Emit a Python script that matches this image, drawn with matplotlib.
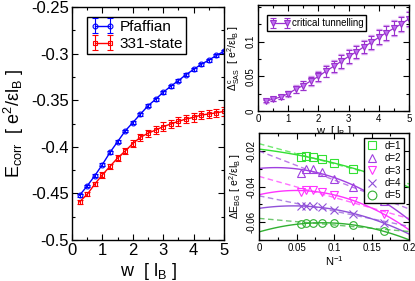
import numpy as np
import matplotlib
matplotlib.use("Agg")
import matplotlib.pyplot as plt
from matplotlib.ticker import MultipleLocator, FixedLocator, FuncFormatter

plt.rcParams['font.family'] = ['Liberation Sans', 'DejaVu Sans']
plt.rcParams['axes.unicode_minus'] = False
plt.rcParams['mathtext.fontset'] = 'custom'
plt.rcParams['mathtext.rm'] = 'Liberation Sans'

# ---------------- data ----------------
w = [0.25, 0.5, 0.75, 1.0, 1.25, 1.5, 1.75, 2.0, 2.25, 2.5,
     2.75, 3.0, 3.25, 3.5, 3.75, 4.0, 4.25, 4.5, 4.75, 5.0]
pfaffian = [-0.452, -0.442, -0.431, -0.419, -0.406, -0.3945, -0.383, -0.374,
            -0.365, -0.356, -0.349, -0.3415, -0.335, -0.329, -0.3226, -0.317,
            -0.3115, -0.307, -0.302, -0.2975]
pfaffian_err = [0.0015] * 20
state331 = [-0.459, -0.451, -0.440, -0.430, -0.421, -0.412, -0.4045, -0.3965,
            -0.3898, -0.3855, -0.382, -0.3784, -0.3755, -0.3727, -0.3702,
            -0.3684, -0.3659, -0.3648, -0.3635, -0.362]
state331_err = [0.002, 0.002, 0.0025, 0.003, 0.003, 0.0035, 0.0035, 0.004,
                0.004, 0.004, 0.0045, 0.0045, 0.0045, 0.0045, 0.0045, 0.0045,
                0.0045, 0.0045, 0.0045, 0.0045]

tunnel = [0.0145, 0.017, 0.0203, 0.025, 0.0316, 0.0367, 0.0435, 0.0498,
          0.0576, 0.0643, 0.0715, 0.0788, 0.0851, 0.0924, 0.099, 0.1063,
          0.1131, 0.1194, 0.1258, 0.133]
tunnel_err = [0.002, 0.002, 0.003, 0.004, 0.005, 0.006, 0.006, 0.007, 0.008,
              0.008, 0.009, 0.009, 0.009, 0.009, 0.009, 0.01, 0.01, 0.01,
              0.01, 0.01]
tunnel_err2 = [0.0025, 0.0025, 0.0035, 0.0045, 0.006, 0.007, 0.007, 0.008,
               0.009, 0.009, 0.0105, 0.0105, 0.0105, 0.0105, 0.0105, 0.0115,
               0.0115, 0.0115, 0.0115, 0.0115]

inv_n = [1/18, 1/16, 1/14, 1/12, 1/10, 1/8, 1/6]
d_labels = ['d=1', 'd=2', 'd=3', 'd=4', 'd=5']
e_bg = {
    'd=1': [-0.0237, -0.0228, -0.0232, -0.0247, -0.0271, -0.0303, -0.0350],
    'd=2': [-0.0322, -0.0303, -0.0303, -0.0316, -0.0356, -0.0403, -0.0482],
    'd=3': [-0.0429, -0.0422, -0.0422, -0.0429, -0.0449, -0.0482, -0.0554],
    'd=4': [-0.0511, -0.0511, -0.0511, -0.0516, -0.0529, -0.0552, -0.0605],
    'd=5': [-0.0610, -0.0605, -0.0605, -0.0605, -0.0605, -0.0614, -0.0652],
}
d_colors = ['#33e033', '#a040e0', '#ff33ff', '#9050d8', '#30b030']
d_markers = ['s', '^', 'v', 'x', 'o']

fmt = FuncFormatter(lambda v, p: f"{v:g}")

W, H = 415, 281
fig = plt.figure(figsize=(W/100, H/100), dpi=100)

def frac(x0, y0, x1, y1):
    return [x0/W, 1 - y1/H, (x1-x0)/W, (y1-y0)/H]

def style(ax, fs):
    ax.tick_params(which='both', direction='in', top=True, right=True,
                   labelsize=fs, pad=2)
    ax.tick_params(which='major', length=4, width=0.8)
    ax.tick_params(which='minor', length=2, width=0.8)
    for s in ax.spines.values():
        s.set_linewidth(1.0)

# ---------------- left panel ----------------
ax1 = fig.add_axes(frac(72, 7, 224, 240))
ax1.errorbar(w, pfaffian, yerr=pfaffian_err, color='#0000ff', marker='o',
             ms=3.5, mfc='none', mew=0.8, lw=1.0, capsize=2, elinewidth=0.8,
             label='Pfaffian')
ax1.errorbar(w, state331, yerr=state331_err, color='#ff0000', marker='s',
             ms=3.5, mfc='none', mew=0.8, lw=1.0, capsize=2, elinewidth=0.8,
             label='331-state')
ax1.set_xlim(0, 5)
ax1.set_ylim(-0.5, -0.25)
ax1.xaxis.set_major_locator(MultipleLocator(1))
ax1.xaxis.set_minor_locator(MultipleLocator(0.5))
ax1.yaxis.set_major_locator(MultipleLocator(0.05))
ax1.yaxis.set_minor_locator(MultipleLocator(0.025))
ax1.xaxis.set_major_formatter(fmt)
ax1.yaxis.set_major_formatter(fmt)
style(ax1, 12)
ax1.set_xlabel(r"w  [ l$_\mathregular{B}$ ]", fontsize=13, labelpad=2)
ax1.set_ylabel(r"E$_\mathregular{corr}$  [ e$^\mathregular{2}$/εl$_\mathregular{B}$ ]",
               fontsize=13, labelpad=4)
ax1.legend(loc='upper left', fontsize=11, numpoints=2, handlelength=1.6,
           handletextpad=0.3, borderpad=0.2, labelspacing=0.2,
           fancybox=False, edgecolor='black', framealpha=1,
           bbox_to_anchor=(0.05, 0.99))

# ---------------- top right panel ----------------
ax2 = fig.add_axes(frac(258, 5, 409, 111))
ax2.errorbar(w, tunnel, yerr=tunnel_err2, color='#d8a0f0', fmt='none',
             capsize=2.5, elinewidth=0.8)
ax2.errorbar(w, tunnel, yerr=tunnel_err, color='#9a32cd', marker='v', ms=4.5,
             mfc='#c070f0', mew=0.8, lw=0.9, capsize=2.5, elinewidth=0.8,
             label='critical tunnelling')
ax2.set_xlim(0, 5)
ax2.set_ylim(0, 0.153)
ax2.xaxis.set_major_locator(MultipleLocator(1))
ax2.xaxis.set_minor_locator(MultipleLocator(0.5))
ax2.yaxis.set_major_locator(FixedLocator([0, 0.05, 0.1]))
ax2.yaxis.set_minor_locator(MultipleLocator(0.025))
ax2.xaxis.set_major_formatter(fmt)
ax2.yaxis.set_major_formatter(fmt)
style(ax2, 7)
for lab in ax2.get_yticklabels():
    lab.set_rotation(90)
    lab.set_va('center')
ax2.set_xlabel(r"w  [ l$_\mathregular{B}$ ]", fontsize=8, labelpad=0)
ax2.set_ylabel(r"Δ$^\mathregular{c}_\mathregular{SAS}$  [ e$^\mathregular{2}$/εl$_\mathregular{B}$ ]",
               fontsize=7.5, labelpad=2)
ax2.legend(loc='upper left', fontsize=7, numpoints=2, handlelength=2.0,
           handletextpad=0.2, borderpad=0.3, fancybox=False,
           edgecolor='black', framealpha=1, bbox_to_anchor=(0.03, 0.95))

# ---------------- bottom right panel ----------------
ax3 = fig.add_axes(frac(259, 133, 409, 240))
xs = np.linspace(0, 0.2, 100)
x_arr = np.array(inv_n)
for lab, col, mk in zip(d_labels, d_colors, d_markers):
    y_arr = np.array(e_bg[lab])
    q = np.polyfit(x_arr, y_arr, 2)
    l = np.polyfit(x_arr, y_arr, 1)
    ax3.plot(xs, np.polyval(q, xs), color=col, lw=1.0)
    ax3.plot(xs, np.polyval(l, xs), color=col, lw=1.0, ls=(0, (4, 2.5)), alpha=0.7)
    ax3.plot(x_arr, y_arr, ls='none', marker=mk, ms=5.5, mfc='none',
             mec=col, mew=0.8, label=lab)
ax3.set_xlim(0, 0.2)
ax3.set_ylim(-0.07, -0.01)
ax3.xaxis.set_major_locator(MultipleLocator(0.05))
ax3.xaxis.set_minor_locator(MultipleLocator(0.025))
ax3.yaxis.set_major_locator(FixedLocator([-0.06, -0.04, -0.02]))
ax3.yaxis.set_minor_locator(MultipleLocator(0.01))
ax3.xaxis.set_major_formatter(fmt)
ax3.yaxis.set_major_formatter(fmt)
style(ax3, 7)
for lab in ax3.get_yticklabels():
    lab.set_rotation(90)
    lab.set_va('center')
ax3.set_xlabel(r"N$^\mathregular{-1}$", fontsize=8, labelpad=1)
ax3.set_ylabel(r"ΔE$_\mathregular{BG}$ [ e$^\mathregular{2}$/εl$_\mathregular{B}$ ]",
               fontsize=7.5, labelpad=2)
leg3 = ax3.legend(loc='upper right', fontsize=7, handlelength=1.0,
                  handletextpad=0.8, borderpad=0.3, labelspacing=0.25,
                  markerscale=1.15, fancybox=False, edgecolor='black',
                  framealpha=1, bbox_to_anchor=(1.0, 1.0))
leg3.set_zorder(10)

fig.savefig("out.png", dpi=100)
